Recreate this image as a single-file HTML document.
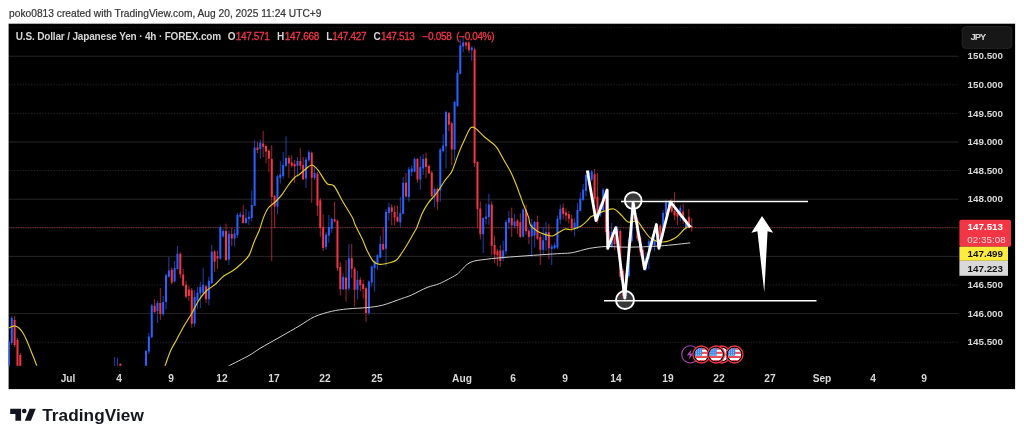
<!DOCTYPE html>
<html lang="en"><head><meta charset="utf-8"><title>USDJPY chart</title>
<style>
html,body{margin:0;padding:0;background:#fff;}
body{width:1024px;height:441px;position:relative;overflow:hidden;font-family:"Liberation Sans",sans-serif;}
#g{position:absolute;left:0;top:0;}
.t{position:absolute;white-space:nowrap;line-height:1;}
.hd{font-size:10.2px;color:#333;-webkit-text-stroke:0.2px #333;}
.lg{font-size:10px;font-weight:bold;color:#d6d6d6;}
.lr{color:#f23645;font-weight:normal;-webkit-text-stroke:0.3px #f23645;}
.ax{font-size:9.8px;font-weight:bold;color:#d8d8d8;}
.tm{font-size:10.2px;font-weight:bold;color:#d8d8d8;top:374.1px;transform:translateX(-50%);}
.lb{font-size:9.8px;font-weight:bold;}
.brand{font-size:17.2px;font-weight:bold;color:#14161f;}
</style></head><body>

<svg id="g" width="1024" height="441" viewBox="0 0 1024 441">
<rect x="8.6" y="23.7" width="1006.5" height="365.4" fill="#000"/>
<defs><clipPath id="cp"><rect x="8.6" y="23.7" width="950" height="342"/></clipPath></defs>
<line x1="8.6" x2="958.5" y1="27.6" y2="27.6" stroke="#ffffff" stroke-opacity="0.1" stroke-width="0.9" stroke-dasharray="1.4 1.4"/>
<line x1="8.6" x2="958.5" y1="56.2" y2="56.2" stroke="#ffffff" stroke-opacity="0.17" stroke-width="0.9"/>
<line x1="8.6" x2="958.5" y1="84.8" y2="84.8" stroke="#ffffff" stroke-opacity="0.17" stroke-width="0.9" stroke-dasharray="1.4 1.4"/>
<line x1="8.6" x2="958.5" y1="113.4" y2="113.4" stroke="#ffffff" stroke-opacity="0.17" stroke-width="0.9" stroke-dasharray="1.4 1.4"/>
<line x1="8.6" x2="958.5" y1="142" y2="142" stroke="#ffffff" stroke-opacity="0.17" stroke-width="0.9"/>
<line x1="8.6" x2="958.5" y1="170.6" y2="170.6" stroke="#ffffff" stroke-opacity="0.17" stroke-width="0.9" stroke-dasharray="1.4 1.4"/>
<line x1="8.6" x2="958.5" y1="199.2" y2="199.2" stroke="#ffffff" stroke-opacity="0.17" stroke-width="0.9"/>
<line x1="8.6" x2="958.5" y1="227.8" y2="227.8" stroke="#ffffff" stroke-opacity="0.17" stroke-width="0.9"/>
<line x1="8.6" x2="958.5" y1="256.4" y2="256.4" stroke="#ffffff" stroke-opacity="0.17" stroke-width="0.9"/>
<line x1="8.6" x2="958.5" y1="285" y2="285" stroke="#ffffff" stroke-opacity="0.17" stroke-width="0.9" stroke-dasharray="1.4 1.4"/>
<line x1="8.6" x2="958.5" y1="313.6" y2="313.6" stroke="#ffffff" stroke-opacity="0.17" stroke-width="0.9"/>
<line x1="8.6" x2="958.5" y1="342.2" y2="342.2" stroke="#ffffff" stroke-opacity="0.17" stroke-width="0.9" stroke-dasharray="1.4 1.4"/>
<g clip-path="url(#cp)">
<line x1="8.6" x2="959" y1="227.6" y2="227.6" stroke="#f23645" stroke-opacity="0.6" stroke-width="0.9" stroke-dasharray="1 1.4"/>
<path d="M8.9 340V372M11.76 316V345M114.61 357V372M117.47 358V372M146.04 350V372M148.89 333V354M151.75 304V338M157.46 300.5V323M163.18 296V316M166.04 273.6V309.5M168.89 257V277.6M174.61 261V282.4M177.46 245.9V269.7M194.61 290V327M197.46 287V308.7M200.32 281.6V308M203.18 268V293.5M208.89 276.8V305.5M211.75 245V284M220.32 225.9V260M223.18 229V238M228.89 230.4V265M234.6 229V246.6M237.46 213V238M240.32 211.3V217.7M246.03 209V224M248.89 211.3V225M251.75 190.6V221.3M254.6 140.4V206M260.32 139.6V158.7M277.46 175V214.4M280.31 161V183.5M283.17 152.3V178.5M286.03 136.4V167.4M297.46 157V177M306.03 157V188M308.88 150V161.8M314.6 167.4V180M326.03 232V249.6M328.88 215V242.5M331.74 217.6V232.9M343.17 273.4V290M348.88 244V290.6M357.45 271V299.4M368.88 280.5V315.2M371.74 265.5V286.7M374.6 260.7V291.7M377.45 254.4V270.2M380.31 236V258.3M386.02 208.9V266.3M388.88 202.5V220.8M400.31 197V227M403.17 177V214.4M408.88 167V201.7M411.74 165.3V176.3M414.59 157.4V172.4M420.31 155.8V189.8M423.17 154.2V175M434.59 187.5V207.3M440.31 147.9V201.7M443.16 134.4V152.6M446.02 110.6V168.5M454.59 100.5V160.5M457.45 69.9V107M460.31 39.6V74.5M463.16 36.7V52.3M471.73 46.4V61M483.16 217.2V253M486.02 203.7V224.4M488.88 193.8V225.2M503.16 241V261.7M506.02 219.6V254.5M508.88 210.9V229.1M514.59 214V228.3M523.16 207.9V237.5M531.73 218.8V256.9M534.59 221V247.4M543.16 226.7V254.5M546.02 222V250.6M551.73 244.2V265M554.59 242.6V249M557.44 215.6V249M560.3 204.5V224.4M574.59 218V236.3M577.44 203V229M580.3 192.3V211.5M583.16 184V201M586.01 173.6V196.2M588.87 170V181M591.73 170V181M600.3 203V217M603.16 188V212M611.73 223V248M617.44 225.8V240M626.01 273V299M628.87 238V278M631.73 201V243M646.01 252V271M648.87 239V269M651.73 236V250M654.58 232V251.5M663.15 210.3V237M666.01 199.4V216M668.87 200V210M680.3 205V221.3M686.01 218.7V230.4" stroke="#2962ff" stroke-width="0.8" stroke-opacity="0.85" fill="none"/>
<path d="M14.61 316V347M17.47 338V370M20.33 353V372M120.32 363V372M154.61 299V313M160.32 288V320M171.75 267.3V284M180.32 252.2V278.4M183.18 268.9V286.3M186.03 280.8V298.3M188.89 285.5V301M191.75 288V327.7M206.03 284.8V303.1M214.6 249.8V272M217.46 250.6V268.9M226.03 223.6V261M231.75 227.7V246M243.17 205V223.6M257.46 142V153M263.17 130.9V157M266.03 144.4V163.4M268.89 149V172M271.74 145V261M274.6 195V228M288.89 155.5V177.7M291.74 155.5V167.4M294.6 160V182.7M300.31 148.3V169.8M303.17 157V180M311.74 151.5V203M317.46 172V216M320.31 198V237M323.17 214.4V251M334.6 201.7V222.5M337.45 219.5V271M340.31 262.3V295.4M346.03 260V301.7M351.74 243.7V277.9M354.6 267V306.5M360.31 277.2V291.4M363.17 279.8V298.6M366.02 286.5V321.6M383.17 227.4V250.4M391.74 204V225.5M394.6 205.7V225.5M397.45 205.7V222.4M406.02 173V197.8M417.45 158V182.7M426.02 152.6V178M428.88 164.5V174M431.74 171V197M437.45 187.5V209.7M448.88 112V131.2M451.74 121.7V165.3M466.02 41.6V49.4M468.88 40.6V53.3M474.59 47.4V167M477.45 161V228.3M480.31 201.3V239.4M491.73 201.3V255.3M494.59 235.5V263.3M497.45 249V266M500.3 245V267M511.73 207.7V237M517.45 218.8V233.9M520.3 213.2V237.9M526.02 204.6V234.7M528.87 229.1V244.2M537.45 215.6V240.2M540.3 233.9V265M548.87 223.6V259.3M563.16 203.7V219.6M566.01 208.5V221.2M568.87 210.9V223.6M571.73 214.8V231.5M594.59 169V202.6M597.44 173V223.3M606.01 189V235M608.87 229V247M614.58 236V250.4M620.3 229V280M623.15 269V298.5M634.58 204V222M637.44 217V241M640.3 236V256M643.15 248V268M657.44 226V248M660.3 224V246M671.72 198.8V213M674.58 192.3V220M677.44 209V225.2M683.15 203.9V223.9M688.87 209V228.4M691.72 218.1V231.7" stroke="#f23645" stroke-width="0.8" stroke-opacity="0.85" fill="none"/>
<path d="M8.9 342V372M11.76 318V343M114.61 367V372M117.47 367V372M146.04 351V372M148.89 336.5V351.5M151.75 305.5V337.3M157.46 303V311M163.18 302V314M166.04 275.2V302M168.89 270.5V276.8M174.61 268V281.6M177.46 253.8V268.9M194.61 297V323.8M197.46 292.7V300.8M200.32 287V293.5M203.18 284.8V292.7M208.89 280.8V299.2M211.75 251.4V283.2M220.32 227.2V258.6M223.18 230.9V236.3M228.89 234V259.4M234.6 233.6V238.6M237.46 215V235M240.32 214.5V216.8M246.03 217.7V223M248.89 216.8V219M251.75 205V218M254.6 147.5V205.7M260.32 142.8V149M277.46 176.3V206.5M280.31 174.5V177.7M283.17 165V176M286.03 157.9V165.8M297.46 161V165.8M306.03 159.4V178.5M308.88 152.3V160.2M314.6 173V177.7M326.03 234.5V247M328.88 227V235.5M331.74 219V228.7M343.17 277V289.3M348.88 258.3V288.5M357.45 279.7V289.8M368.88 281.5V312.9M371.74 266.6V282.5M374.6 261.5V267.9M377.45 255.2V263M380.31 244V257.5M386.02 212V248.8M388.88 207.3V212.9M400.31 212.9V222.4M403.17 182.7V213.7M408.88 169.3V197M411.74 168.5V171.7M414.59 159V171.6M420.31 167V179.5M423.17 159V168.5M434.59 189V196.2M440.31 149.4V190.6M443.16 145.5V151M446.02 112.1V146.3M454.59 102V149.4M457.45 72.8V106M460.31 45.5V73.8M463.16 42.5V46.4M471.73 47.4V50.3M483.16 218V233.9M486.02 216.4V218.8M488.88 204.5V217M503.16 250.5V258.5M506.02 222V251.3M508.88 218V222.8M514.59 221.5V226M523.16 209.5V236.5M531.73 224.4V236.3M534.59 222V235.5M543.16 240.2V249.8M546.02 232.3V240.2M551.73 246.6V249M554.59 245V248.2M557.44 218.8V247.4M560.3 209.3V219.6M574.59 222.8V228.3M577.44 210V228.3M580.3 198.5V210.9M583.16 189.7V200M586.01 174.9V191M588.87 171.6V176.8M591.73 171.6V179.4M600.3 205.2V215.5M603.16 189.7V210M611.73 231.7V246.5M617.44 228.5V233.6M626.01 275V296M628.87 240V276M631.73 207.7V241M646.01 258V269M648.87 241.3V258.5M651.73 238V245M654.58 240V245.2M663.15 213V232.3M666.01 201.5V214.2M668.87 202V207M680.3 207.7V215.5M686.01 223.3V227.1" stroke="#2962ff" stroke-width="2" fill="none"/>
<path d="M14.61 320V345M17.47 340V368M20.33 355V372M120.32 364V372M154.61 305.8V311.9M160.32 303V314M171.75 269.7V282.4M180.32 253.8V274.4M183.18 274.4V285.5M186.03 284.8V296.7M188.89 289.5V296M191.75 290.3V323.8M206.03 286.3V299.2M214.6 251.4V261.7M217.46 256.2V258.6M226.03 230.9V260M231.75 234V238.6M243.17 215V223M257.46 147.5V150M263.17 143.6V146.7M266.03 146V151.5M268.89 150.7V158.7M271.74 158.7V197M274.6 196V206.4M288.89 157.9V163.4M291.74 162.6V165.8M294.6 164V166.6M300.31 161V165.8M303.17 165V179.3M311.74 152.8V177.7M317.46 173.7V205.7M320.31 200.2V228M323.17 227V248M334.6 219.2V221.6M337.45 220.8V268M340.31 267V289M346.03 277.4V289.3M351.74 258.3V268.7M354.6 268.7V289.8M360.31 279.7V285.2M363.17 284V289M366.02 288.3V312.9M383.17 244V249.6M391.74 207.3V212M394.6 212V217.6M397.45 216.8V221.6M406.02 182.7V196.2M417.45 159V179.5M426.02 158.2V167M428.88 166V173.2M431.74 172.5V196.2M437.45 189V201.7M448.88 113V124.8M451.74 123.3V149.4M466.02 42.5V45.5M468.88 42.5V50.3M474.59 49.4V163M477.45 162V209.3M480.31 208.5V233.9M491.73 204.5V245.8M494.59 245V254.5M497.45 251.3V255.3M500.3 250.5V260.9M511.73 218V225.2M517.45 220.6V226.2M520.3 222.2V236.9M526.02 209.5V231.3M528.87 230.7V237M537.45 222V238.7M540.3 237V249.8M548.87 232.3V248.2M563.16 207.7V214M566.01 212.5V215.6M568.87 214V218.8M571.73 218.8V228.3M594.59 174.2V198.8M597.44 196.8V220.7M606.01 190V232M608.87 231V245M614.58 237.5V244M620.3 231V277M623.15 271V296M634.58 208V219.5M637.44 219.5V238.8M640.3 238V252M643.15 250V264M657.44 236V240M660.3 225.8V237.5M671.72 205V211.6M674.58 211V215.5M677.44 212.9V216.8M683.15 211.6V219.4M688.87 216.8V225.8M691.72 225.8V227.8" stroke="#f23645" stroke-width="2" fill="none"/>
<path d="M9 328C9.5 327.75 11 326.83 12 326.5C13 326.17 13.83 325.75 15 326C16.17 326.25 17.67 326.83 19 328C20.33 329.17 21.67 330.83 23 333C24.33 335.17 25.67 338 27 341C28.33 344 29.67 347.67 31 351C32.33 354.33 33.92 358.17 35 361C36.08 363.83 37.08 366.83 37.5 368" fill="none" stroke="#e3cb28" stroke-width="1.15"/>
<path d="M164 369C164.17 368.5 163.9 369.03 165 366C166.1 362.97 168.73 355.07 170.6 350.8C172.47 346.53 173.97 344.53 176.2 340.4C178.43 336.27 181.37 330.57 184 326C186.63 321.43 189.5 317.33 192 313C194.5 308.67 196.63 303.67 199 300C201.37 296.33 203.42 293.67 206.2 291C208.98 288.33 212.78 286.5 215.7 284C218.62 281.5 220.78 278.25 223.7 276C226.62 273.75 230.32 272.5 233.2 270.5C236.08 268.5 238.37 266.52 241 264C243.63 261.48 246.87 258.95 249 255.4C251.13 251.85 252.07 246.93 253.8 242.7C255.53 238.47 257.78 234.18 259.4 230C261.02 225.82 262.02 221.27 263.5 217.6C264.98 213.93 266.18 210.77 268.3 208C270.42 205.23 273.83 203.37 276.2 201C278.57 198.63 280.38 196.58 282.5 193.8C284.62 191.02 286.78 187.1 288.9 184.3C291.02 181.5 293.45 178.63 295.2 177C296.95 175.37 297.65 175.83 299.4 174.5C301.15 173.17 303.6 170.58 305.7 169C307.8 167.42 309.88 164.73 312 165C314.12 165.27 315.9 167.52 318.4 170.6C320.9 173.68 324.4 180.93 327 183.5C329.6 186.07 331.35 182.97 334 186C336.65 189.03 339.83 196.43 342.9 201.7C345.97 206.97 350.35 213.72 352.4 217.6C354.45 221.48 353.53 221.38 355.2 225C356.87 228.62 360.43 235.07 362.4 239.3C364.37 243.53 365.15 246.7 367 250.4C368.85 254.1 371.37 259.17 373.5 261.5C375.63 263.83 377.15 264.18 379.8 264.4C382.45 264.62 386.62 263.53 389.4 262.8C392.18 262.07 394.4 261.67 396.5 260C398.6 258.33 400.02 255.72 402 252.8C403.98 249.88 406.27 246.08 408.4 242.5C410.53 238.92 413.4 233.8 414.8 231.3C416.2 228.8 415.53 230.57 416.8 227.5C418.07 224.43 420.53 216.93 422.4 212.9C424.27 208.87 425.62 206.62 428 203.3C430.38 199.98 433.93 196.72 436.7 193C439.47 189.28 442.48 184 444.6 181C446.72 178 448.08 176.83 449.4 175C450.72 173.17 450.92 173.73 452.5 170C454.08 166.27 456.78 157.88 458.9 152.6C461.02 147.32 463.22 142.45 465.2 138.3C467.18 134.15 469.07 129.33 470.8 127.7C472.53 126.07 473.35 127 475.6 128.5C477.85 130 481.53 134.28 484.3 136.7C487.07 139.12 490.08 141.13 492.2 143C494.32 144.87 494.87 144.73 497 147.9C499.13 151.07 502.88 158.32 505 162C507.12 165.68 508.37 167.5 509.7 170C511.03 172.5 511.95 174.62 513 177C514.05 179.38 514.83 181.3 516 184.3C517.17 187.3 518.93 192.1 520 195C521.07 197.9 521.6 199.58 522.4 201.7C523.2 203.82 523.75 205.05 524.8 207.7C525.85 210.35 527.78 214.72 528.7 217.6C529.62 220.48 528.97 222.82 530.3 225C531.63 227.18 534.32 229.13 536.7 230.7C539.08 232.27 541.97 233.52 544.6 234.4C547.23 235.28 550.12 236.35 552.5 236C554.88 235.65 556.78 233.47 558.9 232.3C561.02 231.13 563.35 229.43 565.2 229C567.05 228.57 568.67 229.7 570 229.7C571.33 229.7 571.48 229.53 573.2 229C574.92 228.47 577.92 227.93 580.3 226.5C582.68 225.07 585.77 222.02 587.5 220.4C589.23 218.78 589.38 217.73 590.7 216.8C592.02 215.87 593.47 215.67 595.4 214.8C597.33 213.93 600.7 212.25 602.3 211.6C603.9 210.95 603.07 211.33 605 210.9C606.93 210.47 611.12 208.23 613.9 209C616.68 209.77 619.33 213.33 621.7 215.5C624.07 217.67 625.52 221.03 628.1 222C630.68 222.97 634.62 220.02 637.2 221.3C639.78 222.58 641.23 226.78 643.6 229.7C645.97 232.62 648.17 236.75 651.4 238.8C654.63 240.85 658.92 242.22 663 242C667.08 241.78 672.45 239.55 675.9 237.5C679.35 235.45 681.75 231.47 683.7 229.7C685.65 227.93 686.3 227.43 687.6 226.9C688.9 226.37 690.85 226.57 691.5 226.5" fill="none" stroke="#e3cb28" stroke-width="1.15"/>
<path d="M224 369C224.77 368.5 224.43 368.25 228.6 366C232.77 363.75 243.77 358.43 249 355.5C254.23 352.57 254.83 351.48 260 348.4C265.17 345.32 273.33 340.82 280 337C286.67 333.18 294.28 328.87 300 325.5C305.72 322.13 309.02 319.17 314.3 316.8C319.58 314.43 326.15 312.62 331.7 311.3C337.25 309.98 341.77 309.52 347.6 308.9C353.43 308.28 360.88 308.22 366.7 307.6C372.52 306.98 376.68 306.7 382.5 305.2C388.32 303.7 396.75 300.3 401.6 298.6C406.45 296.9 407.37 296.85 411.6 295C415.83 293.15 422.32 289.42 427 287.5C431.68 285.58 434.87 285.58 439.7 283.5C444.53 281.42 452.62 276.98 456 275C459.38 273.02 457.67 273.68 460 271.6C462.33 269.52 465.68 264.55 470 262.5C474.32 260.45 479.28 260.22 485.9 259.3C492.52 258.38 501.77 257.67 509.7 257C517.63 256.33 525.57 255.85 533.5 255.3C541.43 254.75 551.22 254.08 557.3 253.7C563.38 253.32 566.55 253.4 570 253C573.45 252.6 574.77 252.07 578 251.3C581.23 250.53 584.7 249.2 589.4 248.4C594.1 247.6 599.77 246.7 606.2 246.5C612.63 246.3 618.97 247.3 628 247.2C637.03 247.1 650.03 246.62 660.4 245.9C670.77 245.18 685.23 243.4 690.2 242.9" fill="none" stroke="#d0d0d0" stroke-width="1"/>
<line x1="621" x2="808" y1="201.6" y2="201.6" stroke="#fff" stroke-width="1.5"/>
<line x1="604" x2="816.5" y1="300.8" y2="300.8" stroke="#fff" stroke-width="1.5"/>
<circle cx="633.2" cy="200.6" r="8.4" fill="#fff" fill-opacity="0.22" stroke="#fff" stroke-width="1.9"/>
<circle cx="625" cy="300" r="9" fill="#fff" fill-opacity="0.22" stroke="#fff" stroke-width="1.9"/>
<polyline points="587.3,170.5 596,220.6 607.2,190 607.7,248.4 615.8,227.6 624.8,298 633.2,203 644.6,268.9 656.4,224.5 658.9,248.4 670.6,202 690.3,227.2" fill="none" stroke="#fff" stroke-width="2.8" stroke-linejoin="round" stroke-linecap="butt"/>
<path d="M762 216L773.2 232.8L767.6 231.2L764.3 292.6L757.4 231.2L751.4 232.8Z" fill="#fff"/>
</g>
<circle cx="690.3" cy="354.4" r="8.6" fill="#000" stroke="#ab47bc" stroke-width="1.1"/>
<path d="M691.6 349.2L686.8 355.3H689.9L688.6 359.8L693.6 353.4H690.4Z" fill="#ab47bc"/>
<circle cx="721.7" cy="354.5" r="8.5" fill="#000" stroke="#f23645" stroke-width="1.3"/><circle cx="721.7" cy="354.5" r="6.7" fill="#fff"/>
<g><circle cx="701.4" cy="354.5" r="8.5" fill="#000" stroke="#f23645" stroke-width="1.3"/><clipPath id="fc7014"><circle cx="701.4" cy="354.5" r="6.7"/></clipPath><g clip-path="url(#fc7014)"><rect x="694.4" y="347.5" width="14" height="14" fill="#fff"/><rect x="694.4" y="347.7" width="14" height="2.1" fill="#ef4a55"/><rect x="694.4" y="351.8" width="14" height="2.1" fill="#ef4a55"/><rect x="694.4" y="355.9" width="14" height="2.1" fill="#ef4a55"/><rect x="694.4" y="360" width="14" height="2.1" fill="#ef4a55"/><rect x="694.4" y="347.5" width="7.7" height="8.2" fill="#3a84f2"/><rect x="696" y="349.4" width="0.9" height="1.3" fill="#fff" fill-opacity="0.55"/><rect x="698" y="349.4" width="0.9" height="1.3" fill="#fff" fill-opacity="0.55"/><rect x="700" y="349.4" width="0.9" height="1.3" fill="#fff" fill-opacity="0.55"/><rect x="696" y="351.6" width="0.9" height="1.3" fill="#fff" fill-opacity="0.55"/><rect x="698" y="351.6" width="0.9" height="1.3" fill="#fff" fill-opacity="0.55"/><rect x="700" y="351.6" width="0.9" height="1.3" fill="#fff" fill-opacity="0.55"/><rect x="696" y="353.8" width="0.9" height="1.3" fill="#fff" fill-opacity="0.55"/><rect x="698" y="353.8" width="0.9" height="1.3" fill="#fff" fill-opacity="0.55"/><rect x="700" y="353.8" width="0.9" height="1.3" fill="#fff" fill-opacity="0.55"/></g></g>
<g><circle cx="716" cy="354.5" r="8.5" fill="#000" stroke="#f23645" stroke-width="1.3"/><clipPath id="fc7160"><circle cx="716" cy="354.5" r="6.7"/></clipPath><g clip-path="url(#fc7160)"><rect x="709" y="347.5" width="14" height="14" fill="#fff"/><rect x="709" y="347.7" width="14" height="2.1" fill="#ef4a55"/><rect x="709" y="351.8" width="14" height="2.1" fill="#ef4a55"/><rect x="709" y="355.9" width="14" height="2.1" fill="#ef4a55"/><rect x="709" y="360" width="14" height="2.1" fill="#ef4a55"/><rect x="709" y="347.5" width="7.7" height="8.2" fill="#3a84f2"/><rect x="710.6" y="349.4" width="0.9" height="1.3" fill="#fff" fill-opacity="0.55"/><rect x="712.6" y="349.4" width="0.9" height="1.3" fill="#fff" fill-opacity="0.55"/><rect x="714.6" y="349.4" width="0.9" height="1.3" fill="#fff" fill-opacity="0.55"/><rect x="710.6" y="351.6" width="0.9" height="1.3" fill="#fff" fill-opacity="0.55"/><rect x="712.6" y="351.6" width="0.9" height="1.3" fill="#fff" fill-opacity="0.55"/><rect x="714.6" y="351.6" width="0.9" height="1.3" fill="#fff" fill-opacity="0.55"/><rect x="710.6" y="353.8" width="0.9" height="1.3" fill="#fff" fill-opacity="0.55"/><rect x="712.6" y="353.8" width="0.9" height="1.3" fill="#fff" fill-opacity="0.55"/><rect x="714.6" y="353.8" width="0.9" height="1.3" fill="#fff" fill-opacity="0.55"/></g></g>
<g><circle cx="734.5" cy="354.5" r="8.5" fill="#000" stroke="#f23645" stroke-width="1.3"/><clipPath id="fc7345"><circle cx="734.5" cy="354.5" r="6.7"/></clipPath><g clip-path="url(#fc7345)"><rect x="727.5" y="347.5" width="14" height="14" fill="#fff"/><rect x="727.5" y="347.7" width="14" height="2.1" fill="#ef4a55"/><rect x="727.5" y="351.8" width="14" height="2.1" fill="#ef4a55"/><rect x="727.5" y="355.9" width="14" height="2.1" fill="#ef4a55"/><rect x="727.5" y="360" width="14" height="2.1" fill="#ef4a55"/><rect x="727.5" y="347.5" width="7.7" height="8.2" fill="#3a84f2"/><rect x="729.1" y="349.4" width="0.9" height="1.3" fill="#fff" fill-opacity="0.55"/><rect x="731.1" y="349.4" width="0.9" height="1.3" fill="#fff" fill-opacity="0.55"/><rect x="733.1" y="349.4" width="0.9" height="1.3" fill="#fff" fill-opacity="0.55"/><rect x="729.1" y="351.6" width="0.9" height="1.3" fill="#fff" fill-opacity="0.55"/><rect x="731.1" y="351.6" width="0.9" height="1.3" fill="#fff" fill-opacity="0.55"/><rect x="733.1" y="351.6" width="0.9" height="1.3" fill="#fff" fill-opacity="0.55"/><rect x="729.1" y="353.8" width="0.9" height="1.3" fill="#fff" fill-opacity="0.55"/><rect x="731.1" y="353.8" width="0.9" height="1.3" fill="#fff" fill-opacity="0.55"/><rect x="733.1" y="353.8" width="0.9" height="1.3" fill="#fff" fill-opacity="0.55"/></g></g>
<rect x="962.2" y="26.6" width="49.6" height="21.8" rx="3.5" fill="#171717" stroke="#2a2a2a" stroke-width="0.8"/>
<rect x="959.4" y="219.8" width="51.6" height="27" rx="1.8" fill="#f23645"/>
<rect x="959.4" y="246.7" width="48.6" height="14.1" fill="#ffeb3b"/>
<rect x="959.4" y="260.8" width="48.6" height="15" fill="#d9d9d9"/>
<path d="M10.2 408.8H21.1V420.8H15.4V414.1H10.2Z" fill="#14161f"/>
<circle cx="24.2" cy="411" r="2.3" fill="#14161f"/>
<path d="M29.6 408.8H35.7L30.9 420.8H24.8Z" fill="#14161f"/>
</svg>
<div class="t hd" id="hd" style="left:9.1px;top:8.7px;letter-spacing:0.016px;">poko0813 created with TradingView.com, Aug 20, 2025 11:24 UTC+9</div>
<div class="t lg" id="lg0" style="left:15.8px;top:31.9px;letter-spacing:-0.160px;">U.S. Dollar / Japanese Yen · 4h · FOREX.com</div>
<div class="t lg" id="ok" style="left:227.8px;top:31.9px;letter-spacing:0.000px;">O</div>
<div class="t lg lr" id="ov" style="left:235.8px;top:31.9px;letter-spacing:-0.359px;">147.571</div>
<div class="t lg" id="hk" style="left:277px;top:31.9px;letter-spacing:0.000px;">H</div>
<div class="t lg lr" id="hv" style="left:284.8px;top:31.9px;letter-spacing:-0.276px;">147.668</div>
<div class="t lg" id="lk" style="left:326.2px;top:31.9px;letter-spacing:0.000px;">L</div>
<div class="t lg lr" id="lv" style="left:332.3px;top:31.9px;letter-spacing:-0.309px;">147.427</div>
<div class="t lg" id="ck" style="left:373.6px;top:31.9px;letter-spacing:0.000px;">C</div>
<div class="t lg lr" id="cv" style="left:381px;top:31.9px;letter-spacing:-0.376px;">147.513</div>
<div class="t lg lr" id="chg1" style="left:422.5px;top:31.9px;letter-spacing:-0.315px;">−0.058</div>
<div class="t lg lr" id="chg2" style="left:456.2px;top:31.9px;letter-spacing:-0.366px;">(−0.04%)</div>
<div class="t ax" id="p0" style="left:967.6px;top:51px;letter-spacing:-0.004px;">150.500</div>
<div class="t ax" id="p1" style="left:967.6px;top:80px;letter-spacing:-0.004px;">150.000</div>
<div class="t ax" id="p2" style="left:967.6px;top:109px;letter-spacing:-0.004px;">149.500</div>
<div class="t ax" id="p3" style="left:967.6px;top:137px;letter-spacing:-0.004px;">149.000</div>
<div class="t ax" id="p4" style="left:967.6px;top:166px;letter-spacing:-0.004px;">148.500</div>
<div class="t ax" id="p5" style="left:967.6px;top:194px;letter-spacing:-0.004px;">148.000</div>
<div class="t ax" id="p8" style="left:967.6px;top:280px;letter-spacing:-0.004px;">146.500</div>
<div class="t ax" id="p9" style="left:967.6px;top:309px;letter-spacing:-0.004px;">146.000</div>
<div class="t ax" id="p10" style="left:967.6px;top:337px;letter-spacing:-0.004px;">145.500</div>
<div class="t ax" id="jpy" style="left:970.4px;top:32px;letter-spacing:-0.917px;font-size:9.4px">JPY</div>
<div class="t lb" id="lb1" style="left:967.6px;top:222px;letter-spacing:-0.004px;color:#fff">147.513</div>
<div class="t lb" id="lb2" style="left:967.2px;top:235px;letter-spacing:0.066px;color:#fbd3d6;font-weight:normal">02:35:08</div>
<div class="t lb" id="lb3" style="left:967.6px;top:249px;letter-spacing:-0.004px;color:#111">147.499</div>
<div class="t lb" id="lb4" style="left:967.6px;top:264px;letter-spacing:-0.004px;color:#111">147.223</div>
<div class="t tm" style="left:68px">Jul</div>
<div class="t tm" style="left:119px">4</div>
<div class="t tm" style="left:171px">9</div>
<div class="t tm" style="left:222px">12</div>
<div class="t tm" style="left:274px">17</div>
<div class="t tm" style="left:325px">22</div>
<div class="t tm" style="left:377px">25</div>
<div class="t tm" style="left:462px">Aug</div>
<div class="t tm" style="left:513px">6</div>
<div class="t tm" style="left:565px">9</div>
<div class="t tm" style="left:616px">14</div>
<div class="t tm" style="left:668px">19</div>
<div class="t tm" style="left:719px">22</div>
<div class="t tm" style="left:770px">27</div>
<div class="t tm" style="left:822px">Sep</div>
<div class="t tm" style="left:873px">4</div>
<div class="t tm" style="left:924px">9</div>
<div class="t brand" id="brand" style="left:42.2px;top:407px;letter-spacing:0.066px;">TradingView</div>
</body></html>
